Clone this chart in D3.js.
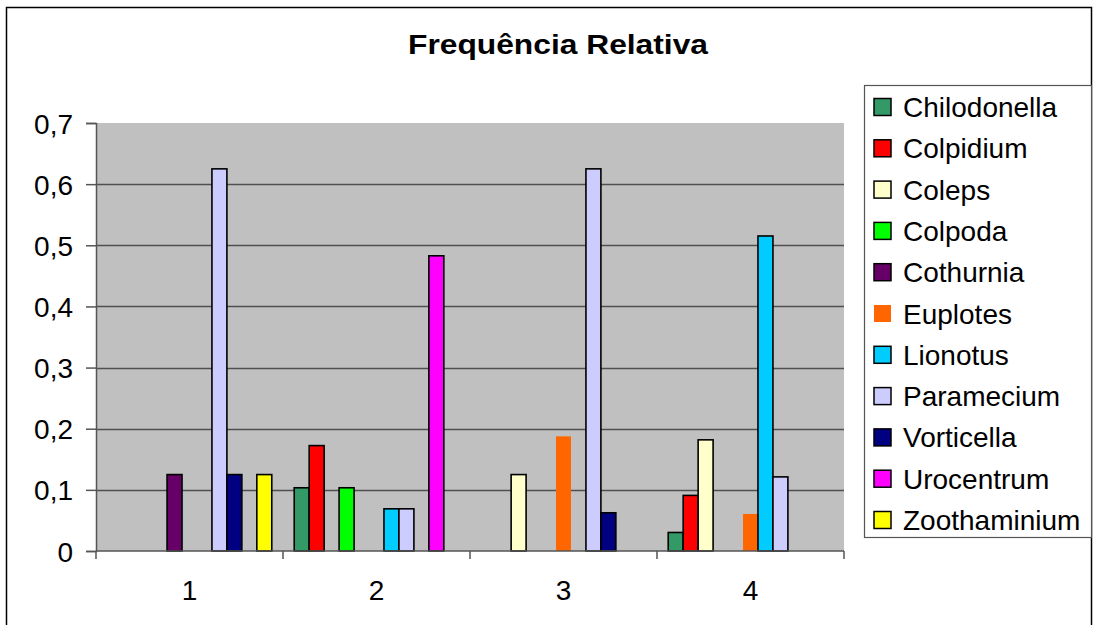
<!DOCTYPE html>
<html>
<head>
<meta charset="utf-8">
<script src="https://cdn.jsdelivr.net/npm/d3@7"></script>
<style>
  html, body { margin: 0; padding: 0; background: #fff; }
  svg { display: block; font-family: "Liberation Sans", Arial, Helvetica, sans-serif; }
</style>
</head>
<body>
<svg id="chart" width="1095" height="625"></svg>
<script>
// ---- data ----
const categories = ["1", "2", "3", "4"];
const seriesNames = ["Chilodonella", "Colpidium", "Coleps", "Colpoda", "Cothurnia", "Euplotes",
                     "Lionotus", "Paramecium", "Vorticella", "Urocentrum", "Zoothaminium"];
const chilodonella = [0, 0.1034, 0, 0.0303];
const colpidium    = [0, 0.1724, 0, 0.0909];
const coleps       = [0, 0, 0.125, 0.1818];
const colpoda      = [0, 0.1034, 0, 0];
const cothurnia    = [0.125, 0, 0, 0];
const euplotes     = [0, 0, 0.1875, 0.0606];
const lionotus     = [0, 0.069, 0, 0.5152];
const paramecium   = [0.625, 0.069, 0.625, 0.1212];
const vorticella   = [0.125, 0, 0.0625, 0];
const urocentrum   = [0, 0.4828, 0, 0];
const zoothaminium = [0.125, 0, 0, 0];
const yTicks = [0, 0.1, 0.2, 0.3, 0.4, 0.5, 0.6, 0.7];
const yTickLabels = ["0", "0,1", "0,2", "0,3", "0,4", "0,5", "0,6", "0,7"];
const colors = ["#339966", "#FF0000", "#FFFFCC", "#00FF00", "#660066", "#FF6600",
                "#00CCFF", "#CCCCFF", "#000080", "#FF00FF", "#FFFF00"];
const titleText = "Frequência Relativa";

const seriesValues = [chilodonella, colpidium, coleps, colpoda, cothurnia, euplotes,
                      lionotus, paramecium, vorticella, urocentrum, zoothaminium];
const noBorder = new Set(["Euplotes"]);

// ---- layout ----
const svg = d3.select("#chart");
const plot = { left: 96, right: 844, top: 123, bottom: 551 };

// outer frame
svg.append("rect").attr("x", 6.5).attr("y", 7.5).attr("width", 1085).attr("height", 700)
  .attr("fill", "#fff").attr("stroke", "#000").attr("stroke-width", 1.5);

const x0 = d3.scaleBand().domain(categories).range([plot.left, plot.right]).padding(0);
const x1 = d3.scaleBand().domain(seriesNames).range([0, x0.bandwidth()])
  .paddingInner(0).paddingOuter(0.75);
const y = d3.scaleLinear().domain([0, 0.7]).range([plot.bottom, plot.top]);

// plot background
svg.append("rect").attr("x", plot.left).attr("y", plot.top)
  .attr("width", plot.right - plot.left).attr("height", plot.bottom - plot.top)
  .attr("fill", "#C0C0C0");

// gridlines
svg.append("g").selectAll("line").data(yTicks.filter(t => t > 0 && t < 0.7)).join("line")
  .attr("x1", plot.left).attr("x2", plot.right)
  .attr("y1", d => Math.round(y(d)) + 0.5).attr("y2", d => Math.round(y(d)) + 0.5)
  .attr("stroke", "#505050").attr("stroke-width", 1.3);

// bars
const groups = svg.append("g").selectAll("g").data(categories).join("g")
  .attr("transform", d => `translate(${x0(d)},0)`);
groups.selectAll("rect")
  .data((c, ci) => seriesNames.map((s, si) => ({ s, si, v: seriesValues[si][ci] })).filter(d => d.v > 0))
  .join("rect")
  .attr("x", d => x1(d.s))
  .attr("width", x1.bandwidth())
  .attr("y", d => y(d.v))
  .attr("height", d => y(0) - y(d.v))
  .attr("fill", d => colors[d.si])
  .attr("stroke", d => noBorder.has(d.s) ? "none" : "#000")
  .attr("stroke-width", 1.6);

// y axis
const yAxis = d3.axisLeft(y).tickValues(yTicks).tickFormat((d, i) => yTickLabels[i])
  .tickSize(10).tickPadding(13);
const gy = svg.append("g").attr("transform", `translate(${plot.left},0)`).call(yAxis);
gy.select(".domain").attr("stroke", "#555").attr("stroke-width", 1.5);
gy.selectAll(".tick line").attr("stroke", "#555").attr("stroke-width", 1.5);
gy.selectAll(".tick text").attr("font-size", 28).attr("fill", "#000")
  .attr("font-family", "Liberation Sans, Arial, sans-serif").attr("dy", "0.36em");

// x axis: ticks at group boundaries, labels centered
const gx = svg.append("g").attr("transform", `translate(0,${plot.bottom})`);
gx.append("line").attr("x1", plot.left).attr("x2", plot.right).attr("y1", 0).attr("y2", 0)
  .attr("stroke", "#555").attr("stroke-width", 1.5);
const boundaries = categories.map(c => x0(c)).concat([x0(categories[categories.length - 1]) + x0.bandwidth()]);
gx.selectAll("line.tk").data(boundaries).join("line").attr("class", "tk")
  .attr("x1", d => d).attr("x2", d => d).attr("y1", 0).attr("y2", 8)
  .attr("stroke", "#555").attr("stroke-width", 1.5);
gx.selectAll("text").data(categories).join("text")
  .attr("x", d => x0(d) + x0.bandwidth() / 2).attr("y", 49)
  .attr("text-anchor", "middle").attr("font-size", 28).attr("fill", "#000")
  .text(d => d);

// title
svg.append("text").attr("x", 558).attr("y", 54).attr("text-anchor", "middle")
  .attr("font-size", 27).attr("font-weight", "bold").attr("fill", "#000")
  .attr("textLength", 300).attr("lengthAdjust", "spacingAndGlyphs")
  .text(titleText);

// legend
const lg = svg.append("g");
lg.append("rect").attr("x", 864.5).attr("y", 85.5).attr("width", 227).attr("height", 452)
  .attr("fill", "#fff").attr("stroke", "#555").attr("stroke-width", 1.2);
const items = lg.selectAll("g.item").data(seriesNames).join("g").attr("class", "item")
  .attr("transform", (d, i) => `translate(0,${107 + i * 41.3})`);
items.append("rect").attr("x", 874).attr("y", -8.5).attr("width", 17).attr("height", 17)
  .attr("fill", (d, i) => colors[i])
  .attr("stroke", d => noBorder.has(d) ? "none" : "#000").attr("stroke-width", 1.5);
items.append("text").attr("x", 903).attr("y", 10).attr("font-size", 28).attr("fill", "#000")
  .text(d => d);
</script>
</body>
</html>
